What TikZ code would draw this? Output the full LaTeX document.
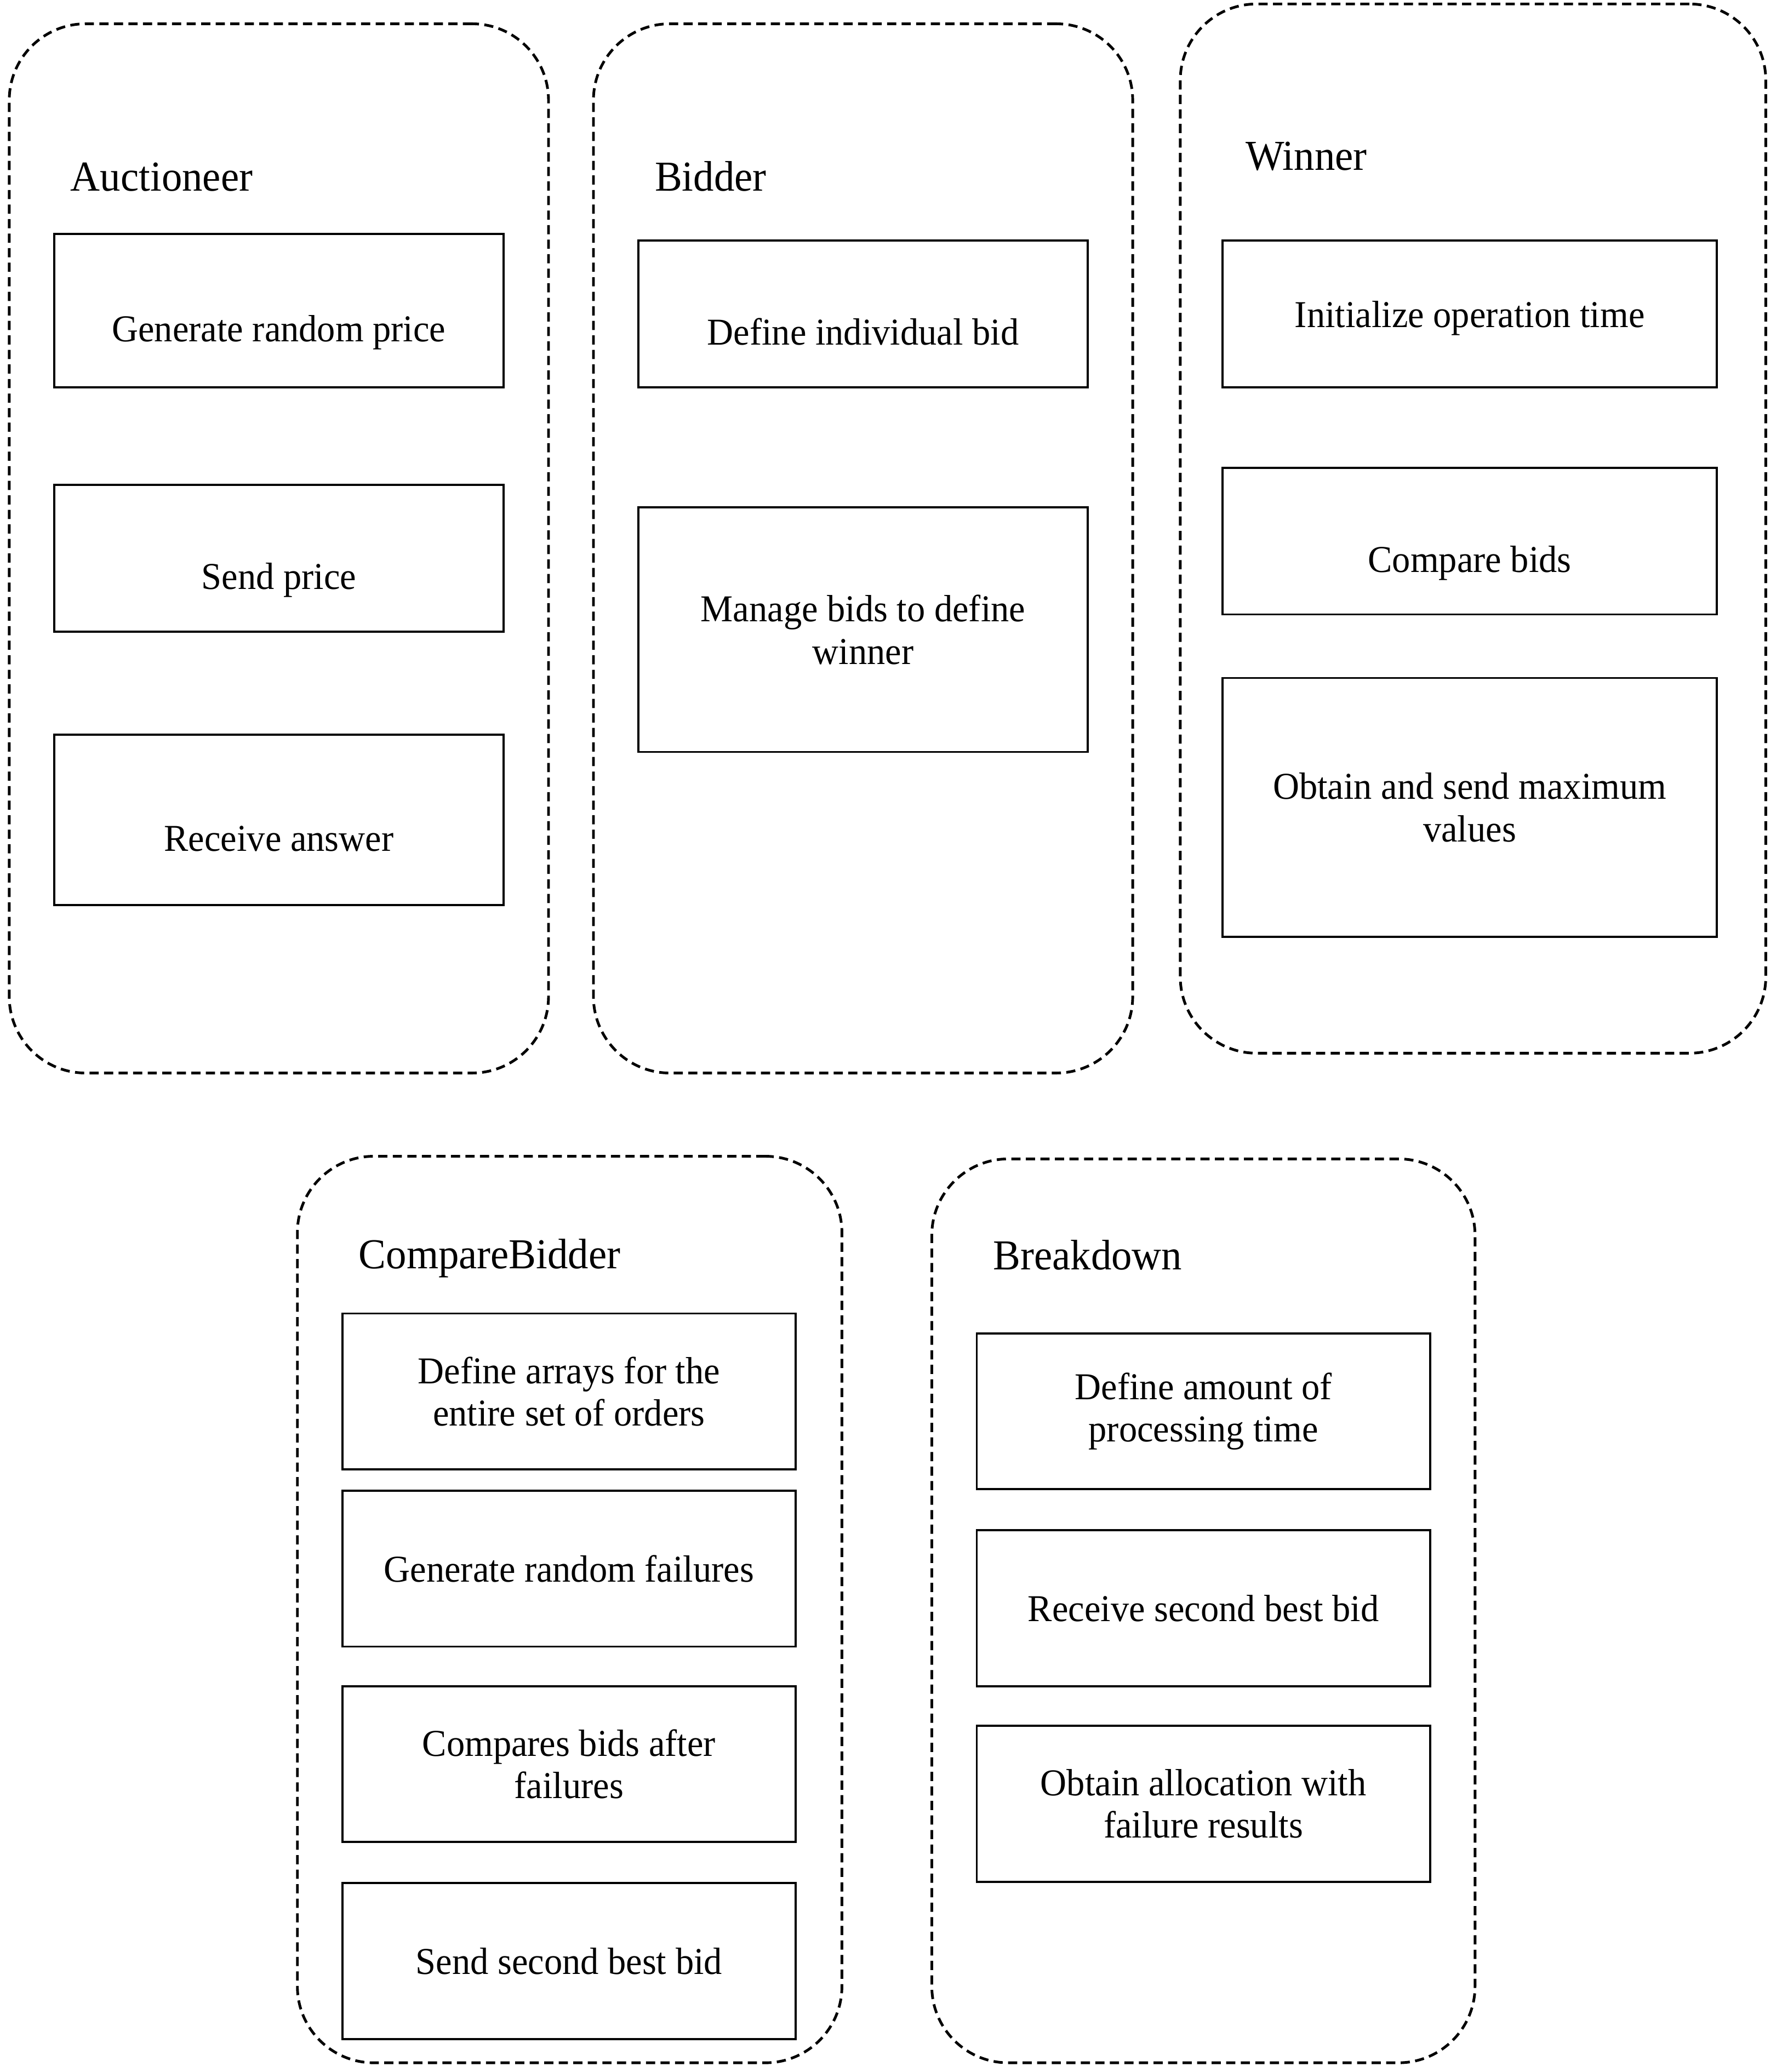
\documentclass[tikz,border=0pt]{standalone}
\usepackage{fontspec}
\setmainfont{Liberation Serif}[FakeStretch=0.96]

\begin{document}
\begin{tikzpicture}[x=0.0147cm,y=-0.0147cm]
        \tikzset{
        group box/.style 2 args={draw,dash pattern=on 2.9pt off 1.7pt,line width=0.85pt,rounded corners=0.85cm,minimum width=#1*0.0147cm,minimum height=#2*0.0147cm,inner sep=0},
        group title/.style={anchor=base west,inner sep=0,font=\fontsize{13.5}{16}\selectfont},
        task box/.style 2 args={draw,line width=0.65pt,align=center,inner sep=0,minimum width=#1*0.0147cm,minimum height=#2*0.0147cm,font=\fontsize{12}{13.4}\selectfont},
        low text/.style={text height=#1,text depth=3pt},
        low text/.default=22.6pt
        }
        \useasboundingbox (0,0) rectangle (1348,1568);

        % dashed groups
        \node[group box={408}{794}] (auct) at (211, 415) {};
        \node[group box={408}{794}] (bidd) at (653, 415) {};
        \node[group box={443}{794}] (winn) at (1114.5, 400) {};
        \node[group box={412}{686}] (cmpb) at (431, 1218) {};
        \node[group box={411}{684}] (brkd) at (910.5, 1219) {};

        \node[group title] (auct title) at (53, 144.5) {Auctioneer};
        \node[group title] (bidd title) at (495, 144.5) {Bidder};
        \node[group title] (winn title) at (942, 128.6) {Winner};
        \node[group title] (cmpb title) at (271, 960) {CompareBidder};
        \node[group title] (brkd title) at (751, 961) {Breakdown};

        % Auctioneer
        \node[task box={340}{116},low text] (a1) at (211, 235) {Generate random price};
        \node[task box={340}{111},low text] (a2) at (211, 422.5) {Send price};
        \node[task box={340}{129},low text] (a3) at (211, 620.5) {Receive answer};

        % Bidder
        \node[task box={340}{111},low text] (b1) at (653, 237.5) {Define individual bid};
        \node[task box={340}{185}] (b2) at (653, 476.5) {Manage bids to define\\winner};

        % Winner
        \node[task box={374}{111},low text=11.6pt] (w1) at (1112, 237.5) {Initialize operation time};
        \node[task box={374}{111},low text] (w2) at (1112, 409.5) {Compare bids};
        \node[task box={374}{196}] (w3) at (1112, 611) {Obtain and send maximum\\values};

        % CompareBidder
        \node[task box={343}{118}] (c1) at (430.5, 1053) {Define arrays for the\\entire set of orders};
        \node[task box={343}{118}] (c2) at (430.5, 1187) {Generate random failures};
        \node[task box={343}{118}] (c3) at (430.5, 1335) {Compares bids after\\failures};
        \node[task box={343}{118}] (c4) at (430.5, 1484) {Send second best bid};

        % Breakdown
        \node[task box={343}{118}] (k1) at (910.5, 1068) {Define amount of\\processing time};
        \node[task box={343}{118}] (k2) at (910.5, 1217) {Receive second best bid};
        \node[task box={343}{118}] (k3) at (910.5, 1365) {Obtain allocation with\\failure results};
\end{tikzpicture}
\end{document}
